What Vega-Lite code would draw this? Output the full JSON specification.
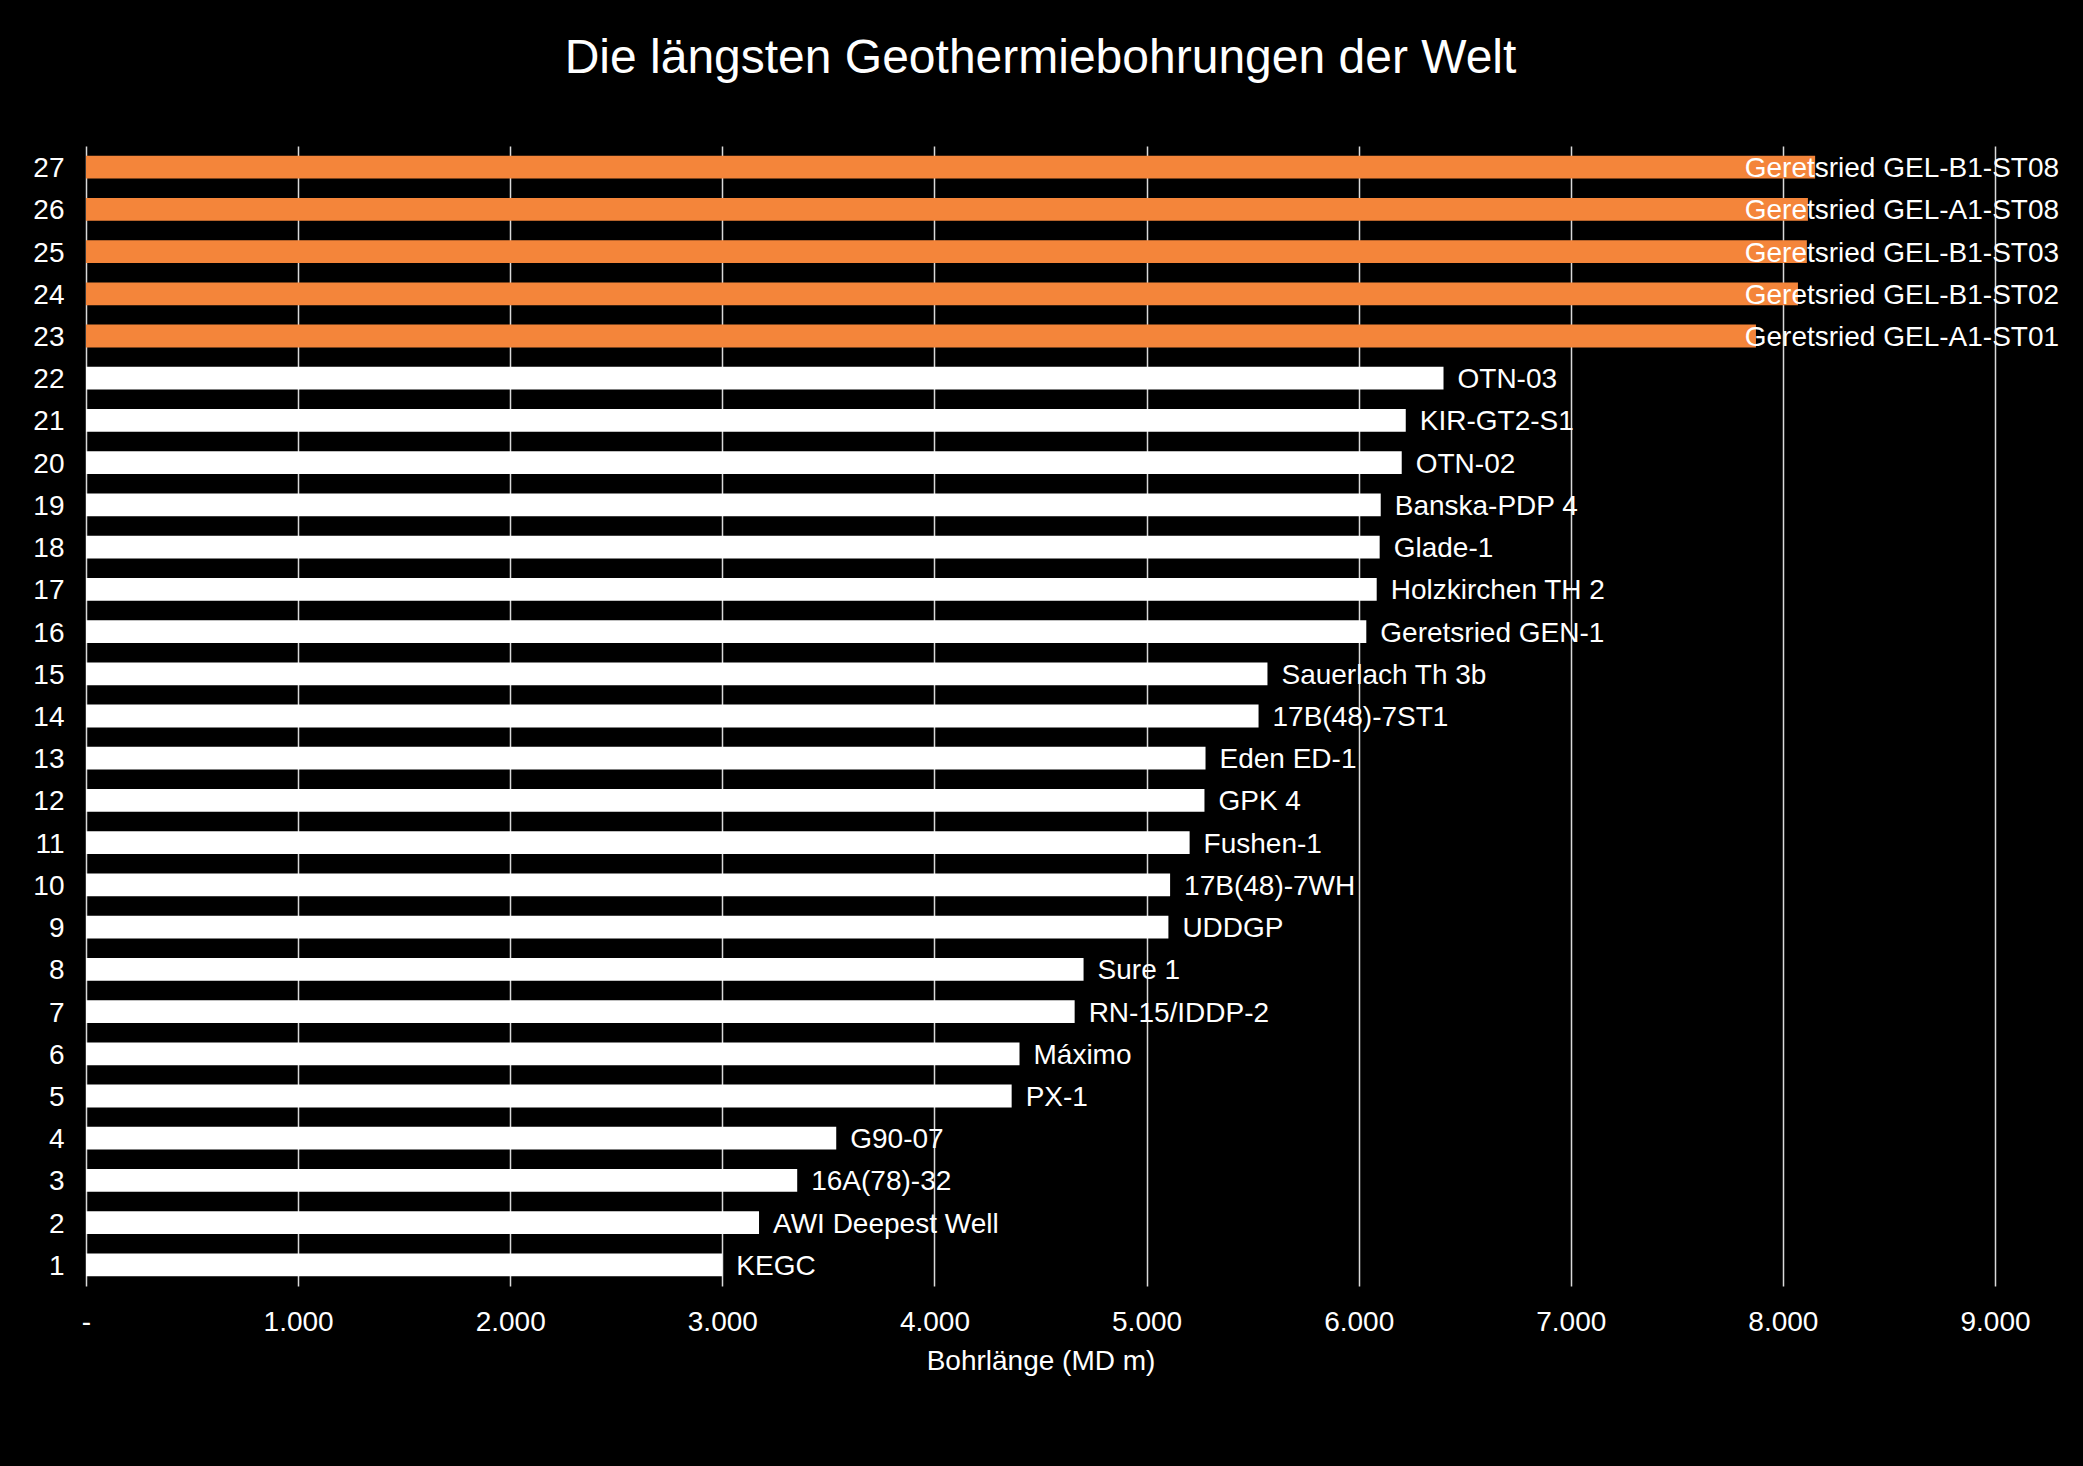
{
  "$schema": "https://vega.github.io/schema/vega-lite/v6.json",
  "width": 1909,
  "height": 1140,
  "autosize": {"type": "none"},
  "padding": {"left": 86, "top": 146, "right": 88, "bottom": 180},
  "background": "#000000",
  "title": {
    "text": "Die längsten Geothermiebohrungen der Welt",
    "fontSize": 48,
    "font": "Liberation Sans",
    "fontWeight": "normal",
    "color": "#FFFFFF",
    "anchor": "middle",
    "offset": 63
  },
  "config": {
    "view": {"stroke": null},
    "font": "Liberation Sans"
  },
  "data": {
    "values": [
      {"Rang": 1, "Bohrung": "KEGC", "Laenge": 3000, "Typ": "andere"},
      {"Rang": 2, "Bohrung": "AWI Deepest Well", "Laenge": 3173, "Typ": "andere"},
      {"Rang": 3, "Bohrung": "16A(78)-32", "Laenge": 3353, "Typ": "andere"},
      {"Rang": 4, "Bohrung": "G90-07", "Laenge": 3537, "Typ": "andere"},
      {"Rang": 5, "Bohrung": "PX-1", "Laenge": 4364, "Typ": "andere"},
      {"Rang": 6, "Bohrung": "Máximo", "Laenge": 4401, "Typ": "andere"},
      {"Rang": 7, "Bohrung": "RN-15/IDDP-2", "Laenge": 4661, "Typ": "andere"},
      {"Rang": 8, "Bohrung": "Sure 1", "Laenge": 4703, "Typ": "andere"},
      {"Rang": 9, "Bohrung": "UDDGP", "Laenge": 5103, "Typ": "andere"},
      {"Rang": 10, "Bohrung": "17B(48)-7WH", "Laenge": 5111, "Typ": "andere"},
      {"Rang": 11, "Bohrung": "Fushen-1", "Laenge": 5203, "Typ": "andere"},
      {"Rang": 12, "Bohrung": "GPK 4", "Laenge": 5273, "Typ": "andere"},
      {"Rang": 13, "Bohrung": "Eden ED-1", "Laenge": 5278, "Typ": "andere"},
      {"Rang": 14, "Bohrung": "17B(48)-7ST1", "Laenge": 5528, "Typ": "andere"},
      {"Rang": 15, "Bohrung": "Sauerlach Th 3b", "Laenge": 5570, "Typ": "andere"},
      {"Rang": 16, "Bohrung": "Geretsried GEN-1", "Laenge": 6036, "Typ": "andere"},
      {"Rang": 17, "Bohrung": "Holzkirchen TH 2", "Laenge": 6085, "Typ": "andere"},
      {"Rang": 18, "Bohrung": "Glade-1", "Laenge": 6099, "Typ": "andere"},
      {"Rang": 19, "Bohrung": "Banska-PDP 4", "Laenge": 6104, "Typ": "andere"},
      {"Rang": 20, "Bohrung": "OTN-02", "Laenge": 6203, "Typ": "andere"},
      {"Rang": 21, "Bohrung": "KIR-GT2-S1", "Laenge": 6222, "Typ": "andere"},
      {"Rang": 22, "Bohrung": "OTN-03", "Laenge": 6400, "Typ": "andere"},
      {"Rang": 23, "Bohrung": "Geretsried GEL-A1-ST01", "Laenge": 7873, "Typ": "GEL"},
      {"Rang": 24, "Bohrung": "Geretsried GEL-B1-ST02", "Laenge": 8071, "Typ": "GEL"},
      {"Rang": 25, "Bohrung": "Geretsried GEL-B1-ST03", "Laenge": 8113, "Typ": "GEL"},
      {"Rang": 26, "Bohrung": "Geretsried GEL-A1-ST08", "Laenge": 8118, "Typ": "GEL"},
      {"Rang": 27, "Bohrung": "Geretsried GEL-B1-ST08", "Laenge": 8152, "Typ": "GEL"}
    ]
  },
  "encoding": {
    "y": {
      "field": "Rang",
      "type": "ordinal",
      "sort": "descending",
      "scale": {"paddingInner": 0.46, "paddingOuter": 0.23},
      "axis": {
        "title": null,
        "domain": false,
        "ticks": false,
        "tickSize": 0,
        "grid": false,
        "labelPadding": 22,
        "labelOffset": 2,
        "labelFontSize": 28,
        "labelColor": "#FFFFFF",
        "labelFont": "Liberation Sans"
      }
    }
  },
  "layer": [
    {
      "mark": {"type": "bar"},
      "encoding": {
        "x": {
          "field": "Laenge",
          "type": "quantitative",
          "scale": {"domain": [0, 9000], "nice": false},
          "axis": {
            "values": [0, 1000, 2000, 3000, 4000, 5000, 6000, 7000, 8000, 9000],
            "labelExpr": "datum.value == 0 ? '-' : replace(format(datum.value, ','), ',', '.')",
            "labelFlush": false,
            "grid": true,
            "gridColor": "#D9D9D9",
            "gridWidth": 1.5,
            "domain": false,
            "ticks": false,
            "tickSize": 0,
            "labelPadding": 22,
            "labelFontSize": 28,
            "labelColor": "#FFFFFF",
            "labelFont": "Liberation Sans",
            "title": "Bohrlänge (MD m)",
            "titleFontSize": 28,
            "titleFont": "Liberation Sans",
            "titleFontWeight": "normal",
            "titleColor": "#FFFFFF",
            "titlePadding": 11
          }
        },
        "color": {
          "field": "Typ",
          "type": "nominal",
          "scale": {"domain": ["andere", "GEL"], "range": ["#FFFFFF", "#F4853A"]},
          "legend": null
        }
      }
    },
    {
      "transform": [{"filter": "datum.Typ != 'GEL'"}],
      "mark": {"type": "text", "align": "left", "baseline": "middle", "dx": 14, "dy": 2, "fontSize": 28, "font": "Liberation Sans", "color": "#FFFFFF"},
      "encoding": {
        "x": {"field": "Laenge", "type": "quantitative"},
        "text": {"field": "Bohrung", "type": "nominal"}
      }
    },
    {
      "transform": [{"filter": "datum.Typ == 'GEL'"}],
      "mark": {"type": "text", "align": "left", "baseline": "middle", "dy": 2, "fontSize": 28, "font": "Liberation Sans", "color": "#FFFFFF"},
      "encoding": {
        "x": {"datum": 7820, "type": "quantitative"},
        "text": {"field": "Bohrung", "type": "nominal"}
      }
    }
  ]
}
